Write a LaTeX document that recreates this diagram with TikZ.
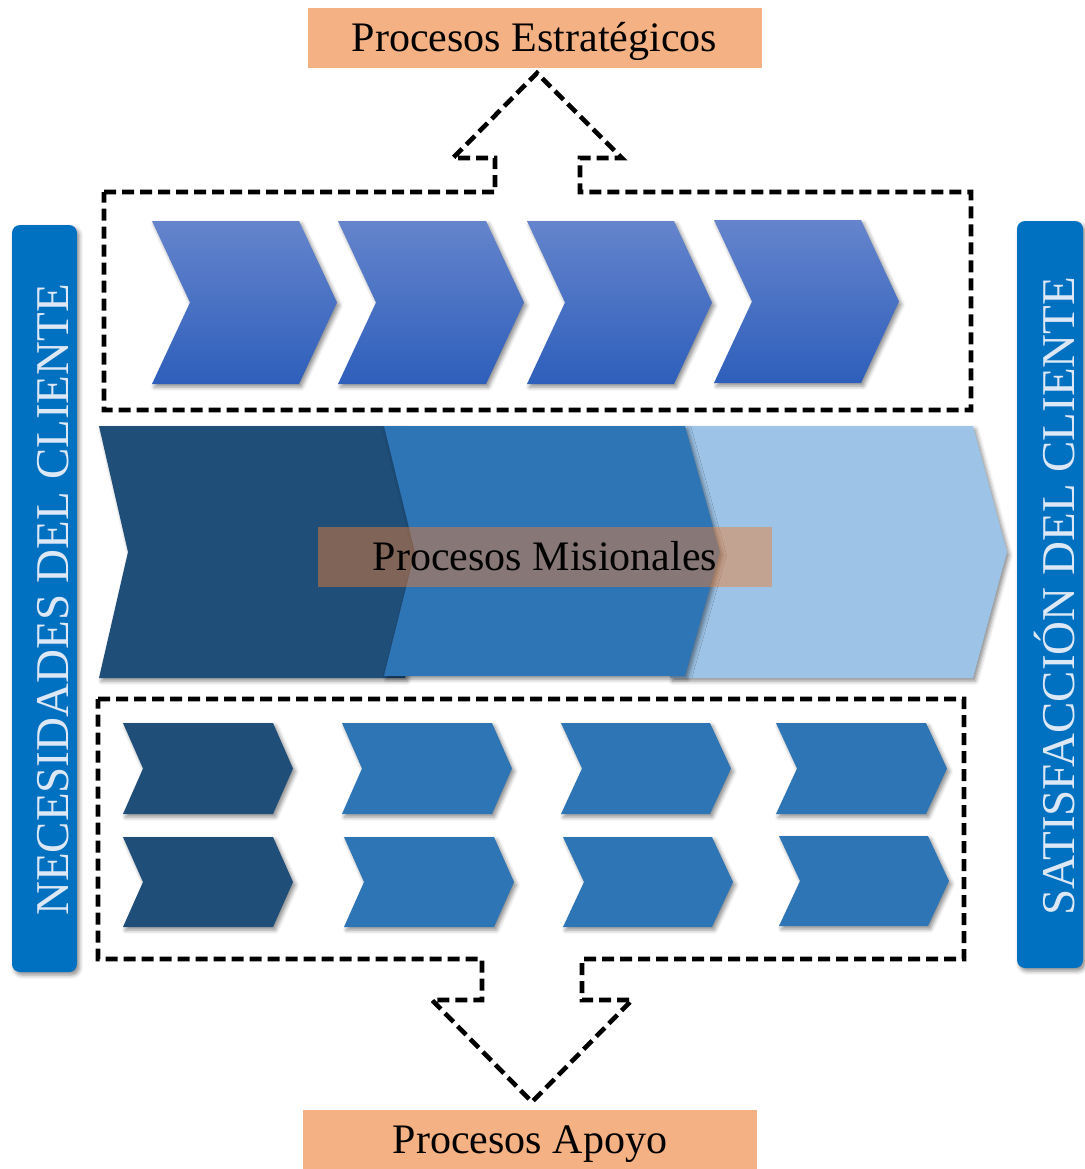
\documentclass[tikz,border=0pt]{standalone}
\usepackage{fontspec}
\setmainfont{Liberation Serif}
\usetikzlibrary{shadows.blur}

\definecolor{darkblue}{HTML}{1F4E79}
\definecolor{midblue}{HTML}{2E75B6}
\definecolor{lightblue}{HTML}{9DC3E6}
\definecolor{gradtop}{HTML}{6584CC}
\definecolor{gradbot}{HTML}{2E5FBB}
\definecolor{barblue}{HTML}{0070C0}
\definecolor{labelorange}{HTML}{F4B183}
\definecolor{glassorange}{HTML}{ED7D31}
\definecolor{bartext}{HTML}{DCE8F6}

\tikzset{
  softshadow/.style={blur shadow={shadow xshift=1.2pt, shadow yshift=-1.5pt,
      shadow blur radius=2pt, shadow opacity=45}},
  topchev/.style={top color=gradtop, bottom color=gradbot, softshadow},
  darkchev/.style={fill=darkblue, softshadow},
  midchev/.style={fill=midblue, softshadow},
  lightchev/.style={fill=lightblue, softshadow},
  dashframe/.style={draw=black, line width=2.3pt, dash pattern=on 6pt off 3pt,
      line join=miter},
  tagbox/.style={fill=labelorange, minimum width=227pt, minimum height=30pt,
      inner sep=0pt, text height=13.5pt, text depth=0pt,
      font=\fontsize{21}{25}\selectfont},
  sidebar/.style={fill=barblue, rounded corners=4pt, softshadow},
  sidetext/.style={rotate=90, text=bartext, font=\fontsize{23.5}{28}\selectfont},
}

% chevron: style, left x, top y, bottom y, body width, point depth
\newcommand\chevron[6]{%
  \path[#1] (#2,#3) -- ({#2+#5},#3) -- ({#2+#5+#6},{(#3+#4)/2})
    -- ({#2+#5},#4) -- (#2,#4) -- ({#2+#6},{(#3+#4)/2}) -- cycle;}

\begin{document}
\begin{tikzpicture}[x=0.5pt,y=-0.5pt]
\useasboundingbox (0,0) rectangle (1084,1169);

% side bars
\path[sidebar] (12,225) rectangle (77,972);
\path[sidebar] (1017,221) rectangle (1083,968);
\node[sidetext] (need) at (53,600) {NECESIDADES DEL CLIENTE};
\node[sidetext] (sat) at (1055,596) {SATISFACCIÓN DEL CLIENTE};

% strategic processes
\chevron{topchev}{152}{221}{384}{147}{38}
\chevron{topchev}{338}{221}{384}{148}{38}
\chevron{topchev}{527}{221}{384}{147}{38}
\chevron{topchev}{714}{220}{383}{147}{38}
\path[dashframe] (104,192) -- (495,192) -- (495,158) -- (453,158) -- (537,73)
  -- (622,158) -- (580,158) -- (580,192) -- (971,192) -- (971,410)
  -- (104,410) -- cycle;
\node[tagbox] (estr) at (534.5,38) {Procesos Estratégicos};

% mission processes
\path[lightchev] (670,426) -- (973,426) -- (1007,552) -- (973,678)
  -- (670,678) -- (700,552) -- cycle;
\path[darkchev] (99,426) -- (405,426) -- (436,552) -- (405,678)
  -- (99,678) -- (128,552) -- cycle;
\path[midchev] (384,426) -- (685,426) -- (720,552) -- (685,676)
  -- (384,676) -- (415,552) -- cycle;
\node[tagbox, fill=glassorange, fill opacity=0.47, text opacity=1] (mis)
  at (545,557) {Procesos Misionales};

% support processes
\chevron{darkchev}{123}{723}{814}{150}{20}
\chevron{midchev}{342}{723}{814}{150}{20}
\chevron{midchev}{561}{723}{814}{149}{21}
\chevron{midchev}{776}{723}{814}{150}{21}
\chevron{darkchev}{123}{837}{927}{150}{20}
\chevron{midchev}{344}{837}{927}{150}{20}
\chevron{midchev}{563}{837}{927}{149}{21}
\chevron{midchev}{779}{836}{926}{149}{21}
\path[dashframe] (98,699) -- (964,699) -- (964,959) -- (582,959) -- (582,1000)
  -- (632,1000) -- (532,1102) -- (432,1000) -- (482,1000) -- (482,959)
  -- (98,959) -- cycle;
\node[tagbox] (apoyo) at (530,1139.5) {Procesos Apoyo};
\end{tikzpicture}
\end{document}
